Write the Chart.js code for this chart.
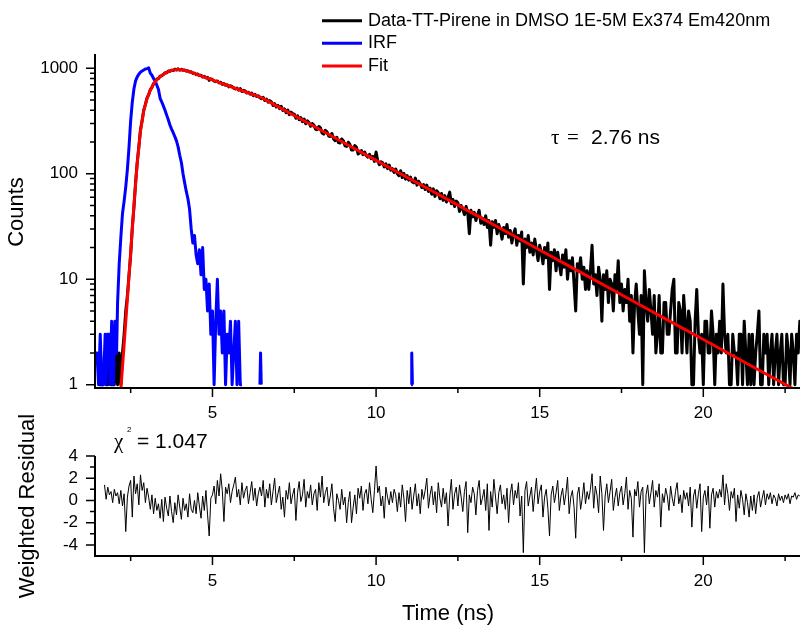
<!DOCTYPE html>
<html>
<head>
<meta charset="utf-8">
<script src="https://cdn.jsdelivr.net/npm/chart.js@4.4.1/dist/chart.umd.min.js"></script>
<style>
html, body { margin: 0; padding: 0; background: #fff; }
#wrap { position: relative; width: 800px; height: 626px; }
#wrap canvas { position: absolute; left: 0; top: 0; }
</style>
</head>
<body>
<div id="wrap">
  <canvas id="decayChart" width="800" height="626"></canvas>
  <canvas id="residChart" width="800" height="626"></canvas>
</div>
<script>
// === DATA ===

// decay channels: 1.5 ns .. 23.0 ns, 0.05 ns apart (one row = 1 ns)
const DECAY_START = 1.5, DECAY_STEP = 0.05;
const decayCounts = [
    2, 1, 1, 1, 2, 1, 1, 2, 1, 1, 1, 2, 1, 2, 1, 2, 3, 5, 7, 11,
    17, 31, 48, 83, 128, 181, 262, 320, 402, 455, 525, 562, 628, 658, 718, 741, 790, 800, 842, 851,
    874, 910, 906, 942, 938, 962, 953, 981, 966, 990, 962, 978, 958, 966, 941, 948, 921, 928, 896, 901,
    872, 884, 852, 861, 828, 840, 810, 821, 770, 795, 781, 757, 748, 760, 728, 738, 705, 716, 690, 700,
    668, 684, 672, 648, 638, 650, 621, 641, 603, 618, 610, 584, 594, 570, 582, 551, 566, 540, 550, 526,
    515, 531, 496, 512, 478, 494, 480, 446, 462, 430, 446, 414, 437, 398, 412, 380, 402, 364, 384, 372,
    368, 336, 355, 326, 341, 312, 330, 298, 318, 306, 282, 300, 290, 264, 262, 281, 272, 244, 238, 258,
    250, 228, 226, 241, 214, 206, 222, 198, 196, 214, 206, 184, 182, 199, 190, 168, 168, 185, 178, 154,
    158, 166, 152, 161, 149, 144, 153, 139, 146, 131, 161, 133, 122, 130, 127, 116, 124, 112, 121, 108,
    112, 103, 111, 100, 96, 107, 92, 101, 89, 96, 87, 93, 84, 82, 91, 78, 85, 80, 74, 79,
    71, 78, 68, 73, 64, 72, 61, 69, 66, 58, 65, 56, 62, 54, 60, 67, 52, 57, 49, 55,
    53, 44, 50, 46, 41, 49, 43, 27, 45, 39, 43, 36, 41, 45, 34, 38, 33, 40, 31, 36,
    21, 35, 31, 36, 27, 33, 29, 24, 31, 27, 33, 25, 29, 22, 27, 30, 21, 26, 23, 28,
    9, 24, 20, 26, 18, 22, 17, 24, 19, 15, 21, 18, 14, 20, 16, 22, 8, 18, 15, 19,
    12, 18, 14, 11, 17, 13, 19, 10, 15, 12, 16, 9, 5, 14, 12, 16, 10, 13, 8, 12,
    8, 12, 21, 9, 11, 7, 13, 10, 4, 11, 8, 12, 6, 10, 9, 5, 11, 8, 15, 6,
    9, 5, 8, 6, 10, 4, 7, 2, 6, 9, 5, 3, 7, 1, 12, 6, 4, 8, 5, 3,
    7, 2, 3, 7, 2, 2, 6, 6, 3, 3, 5, 8, 10, 2, 2, 6, 5, 2, 7, 4,
    2, 5, 4, 1, 1, 4, 8, 3, 2, 3, 1, 4, 4, 2, 2, 5, 3, 1, 3, 2,
    4, 2, 9, 3, 2, 3, 1, 1, 3, 2, 2, 1, 3, 3, 1, 4, 2, 1, 3, 1,
    3, 1, 2, 3, 5, 1, 1, 3, 2, 3, 1, 2, 3, 1, 2, 3, 1, 2, 3, 1,
    1, 3, 2, 1, 3, 2, 1, 3, 2, 4, 3
];

// IRF, null = empty channel (gap on the log axis)
const irfTime = [
    1.42, 1.47, 1.52, 1.57, 1.62, 1.67, 1.72, 1.75, 1.79, 1.84, 1.87, 1.92, 1.97, 2.02, 2.07,
    2.10, 2.15, 2.20, 2.25, 2.30, 2.35, 2.40, 2.45, 2.50, 2.55, 2.60, 2.65, 2.70, 2.75, 2.80,
    2.85, 2.90, 2.95, 3.00, 3.05, 3.10, 3.15, 3.20, 3.25, 3.30, 3.35, 3.40, 3.45, 3.50, 3.55,
    3.60, 3.65, 3.70, 3.75, 3.80, 3.85, 3.90, 3.95, 4.00, 4.05, 4.10, 4.15, 4.20, 4.25, 4.30,
    4.35, 4.40, 4.45, 4.50, 4.55, 4.60, 4.65, 4.70, 4.75, 4.80, 4.85, 4.90, 4.95, 5.00, 5.05,
    5.10, 5.15, 5.20, 5.25, 5.30, 5.35, 5.40, 5.45, 5.50, 5.55, 5.60, 5.65, 5.70, 5.75, 5.80,
    5.85, 5.90, 6.20, 6.45, 6.47, 6.49, 8.00, 11.07, 11.09, 11.11
];
const irfCounts = [
    2, 2, 1, 3, 1, 1, 3, 1, 3, 3, 1, 4, 1, 4, 2,
    6, 14, 25, 42, 55, 75, 110, 180, 320, 480, 640, 760, 830, 880, 920,
    945, 965, 985, 995, 1010, 900, 860, 800, 760, 690, 630, 520, 480, 440, 400,
    360, 325, 290, 265, 245, 225, 205, 180, 150, 128, 100, 82, 68, 58, 46,
    30, 22, 26, 17, 14, 19, 11, 20, 8, 10, 5, 9, 3, 5, 1,
    4, 10, 3, 5, 2, 5, 1, 3, 2, 4, 1, 2, 4, 1, 4,
    1, 1, null, 1, 2, 1, null, 1, 2, 1
];

const fitTime = [
    2.20, 2.30, 2.40, 2.50, 2.60, 2.70, 2.80, 2.90, 3.00, 3.10, 3.20, 3.30, 3.40, 3.50, 3.60,
    3.70, 3.80, 3.95, 4.10, 4.30, 4.50, 4.70, 4.90, 5.10, 5.30, 5.50, 5.75, 6.00, 6.50, 7.00,
    8.00, 9.00, 10.00, 11.00, 12.00, 13.00, 14.00, 15.00, 16.00, 17.00, 18.00, 19.00, 20.00,
    21.00, 22.00, 23.00
];
const fitCounts = [
    0.9, 2.4, 6.5, 18, 50, 125, 255, 395, 515, 620, 710, 780, 835, 880, 915,
    945, 962, 975, 965, 930, 880, 840, 797, 755, 716, 680, 638, 600, 528, 434,
    293, 198, 134, 90.7, 61.3, 41.4, 28.0, 18.9, 12.8, 8.66, 5.85, 3.96, 2.68,
    1.81, 1.22, 0.83
];

// weighted residuals: 1.70 ns on, 0.05 ns apart
const RESID_START = 1.7, RESID_STEP = 0.05;
const residuals = [
    1.4, 0.1, 1.2, 0.5, 0.8, -0.2, 1.0, 0.4, 0.7, -0.3, 0.9, -0.5, 0.6, -2.8, 0.3, 1.3,
    1.8, -1.5, 2.2, 0.6, 1.5, -0.4, 2.3, 0.9, 1.6, -0.2, 1.1, 0.3, -0.8, 0.5, -1.2, 0.2, -0.9, -0.3, -1.6, 0.1,
    -1.9, 0.3, -0.7, -1.4, 0.4, -1.0, -2.0, -0.2, -1.3, 0.5, -0.6, -1.7, 0.2, -0.9, -0.3, -1.5, 0.6, -0.8, -1.1, 0.0,
    -1.2, 0.7, -0.5, -1.6, 0.4, -0.9, 0.9, -1.3, -3.2, 0.2, 0.5, 1.3, -0.3, 1.8, 0.4, 2.4, 0.9, -1.9, 1.2, 0.6,
    1.5, -0.2, 0.8, 1.4, 2.1, 0.3, 1.0, -0.4, 1.6, 0.2, 0.9, 1.3, -0.3, 0.7, 1.7, 0.0, 1.1, -0.5, 0.6, 1.2,
    0.4, 1.8, -0.6, 1.0, 0.2, 1.5, -0.4, 0.8, 2.0, -0.2, 0.6, 1.3, -0.8, 0.3, -1.5, 0.9, 0.1, 1.6, -0.3, 0.5,
    1.1, -1.8, 0.7, 1.7, -0.1, 0.5, 1.9, -0.6, 0.8, 0.2, 1.4, -0.4, 0.6, 1.0, -0.9, 1.6, 0.3, 2.2, -0.2, 0.7,
    1.2, -0.5, 0.4, 1.5, -0.7, -1.9, 0.6, 0.0, -0.8, 1.0, -0.4, 0.3, -2.0, -0.2, 0.8, -2.0, -0.6, 0.5, -1.2, 1.1,
    0.2, 1.3, -0.9, 0.6, 1.0, -0.3, 1.6, 0.1, -1.1, 0.9, 3.1, 0.7, 1.3, -0.5, 0.4, -1.6, 1.2, 0.3, -0.4, 0.8,
    -0.2, 1.0, 0.5, -1.0, 0.7, -0.6, 1.4, 0.2, -1.9, 0.9, -0.3, 1.2, -0.8, 0.4, 1.5, -0.5, 0.6, -1.2, 1.0, 0.1,
    0.9, 2.0, -0.7, 0.5, 1.3, -0.4, 0.8, -1.1, 1.6, 0.2, -0.6, 1.1, -0.3, 0.7, -2.3, 0.4, 1.9, -0.8, 0.6, 1.2,
    -0.5, 1.4, 0.3, -1.0, 0.8, 1.7, -2.9, 0.5, -0.2, 1.2, 0.6, -1.3, 0.9, 1.8, -0.4, 0.2, 1.0, -0.9, 1.5, -2.7,
    0.8, -0.6, 1.9, 0.3, -1.2, 0.7, 1.4, -0.3, 0.5, -0.8, 1.1, -2.0, 0.6, 1.5, -0.4, 0.9, 0.2, 1.6, -1.4, 0.4,
    -4.7, 0.9, 1.7, -0.5, 0.4, 1.2, -1.0, 0.6, 2.0, -0.3, 0.8, 1.4, -1.5, 0.3, 1.0, -0.7, -3.2, 0.5, 1.3, -0.2,
    0.7, 1.8, -0.9, 0.4, 1.1, -0.4, 0.6, 2.1, -1.2, 0.3, 0.9, -0.6, -3.4, 0.5, 1.2, -0.8, 0.2, 1.6, -0.3, 0.8,
    0.1, 1.0, 2.4, -0.7, 1.3, 0.5, -1.1, 2.2, 0.6, -2.7, 0.4, 1.5, -0.2, 0.8, 1.9, -0.9, 0.3, 1.1, -0.5, 0.7,
    1.3, -0.4, 0.6, 2.1, -0.8, 0.9, 0.2, -3.3, 1.0, 0.4, 1.7, -0.6, 0.8, 1.2, -4.7, 0.5, 1.4, -0.3, 0.7, 1.8,
    -0.6, 0.9, 0.3, 1.5, -2.4, 0.6, -0.2, 1.1, 0.4, -0.9, 1.3, 0.2, -0.5, 0.8, 1.6, -0.3, 0.5, -1.1, 0.9, 0.1,
    0.7, -0.5, 1.2, -2.4, 0.4, 1.0, -0.7, 0.6, 1.5, -2.8, 0.3, 0.9, -0.4, 1.3, -2.5, 0.5, 1.1, -0.6, 0.8, 0.2,
    1.0, 0.3, 2.3, -0.4, 1.5, 0.6, -0.9, 0.8, 0.2, 1.1, -1.9, 0.5, -0.7, 0.9, 0.1, -1.3, 0.6, -0.2, -1.5, 0.4,
    -0.9, 0.5, -1.2, 0.3, 0.8, -0.6, 0.2, 0.9, -0.4, 0.6, 0.1, 0.7, -0.3, 0.5, 0.2, -0.5, 0.6, 0.0, 0.4, -0.2,
    0.5, 0.1, 0.6, -0.3, 0.4, 0.3, 0.7, 0.1, 0.5, 0.4
];

// axes / ticks
const X_MIN = 1.41, X_MAX = 22.955;
const timeTicks = [5, 10, 15, 20];
const timeMinorTicks = [2.5, 7.5, 12.5, 17.5, 22.5];
const countTicks = [1, 10, 100, 1000];
const countMinorTicks = [1, 10, 100].flatMap(d => [2, 3, 4, 5, 6, 7, 8, 9].map(m => m * d));
const residTicks = [4, 2, 0, -2, -4];
const residMinorTicks = [3, 1, -1, -3];

const seriesLabels = ['Data-TT-Pirene in DMSO 1E-5M Ex374 Em420nm', 'IRF', 'Fit'];
const seriesColors = ['#000000', '#0000ff', '#ff0000'];

const SANS = "'Liberation Sans', Arial, sans-serif";
const SERIF = "'Liberation Serif', 'Times New Roman', serif";

const toPoints = (xs, ys) => xs.map((x, i) => ({ x, y: ys[i] }));
const channelTimes = (n, start, step) => Array.from({ length: n }, (_, i) => +(start + i * step).toFixed(3));

// === AXIS FRAME (Origin style: left + bottom only, ticks outside) ===

function framePlugin(cfg) {
    return {
        id: 'frame',
        afterDatasetsDraw(chart) {
            const { ctx, chartArea: a } = chart;
            const sx = chart.scales.x, sy = chart.scales.y;
            ctx.save();
            ctx.strokeStyle = '#000';
            ctx.fillStyle = '#000';

            ctx.lineWidth = 1.5;
            ctx.beginPath();
            timeTicks.forEach(v => { const p = sx.getPixelForValue(v); ctx.moveTo(p, a.bottom); ctx.lineTo(p, a.bottom + 9); });
            timeMinorTicks.forEach(v => { const p = sx.getPixelForValue(v); ctx.moveTo(p, a.bottom); ctx.lineTo(p, a.bottom + 5); });
            cfg.yTicks.forEach(v => { const p = sy.getPixelForValue(v); ctx.moveTo(a.left, p); ctx.lineTo(a.left - 9, p); });
            cfg.yMinor.forEach(v => { const p = sy.getPixelForValue(v); ctx.moveTo(a.left, p); ctx.lineTo(a.left - 5, p); });
            ctx.stroke();

            ctx.lineWidth = 2;
            ctx.beginPath();
            ctx.moveTo(a.left, a.top);
            ctx.lineTo(a.left, a.bottom);
            ctx.lineTo(a.right, a.bottom);
            ctx.stroke();

            ctx.font = '17px ' + SANS;
            ctx.textAlign = 'center';
            ctx.textBaseline = 'middle';
            timeTicks.forEach(v => ctx.fillText(String(v), sx.getPixelForValue(v), a.bottom + 25.5));
            ctx.textAlign = 'right';
            cfg.yTicks.forEach(v => ctx.fillText(String(v), a.left - 17, sy.getPixelForValue(v)));

            if (cfg.extra) cfg.extra(ctx, chart);
            ctx.restore();
        }
    };
}

function rotatedText(ctx, text, x, y) {
    ctx.save();
    ctx.translate(x, y);
    ctx.rotate(-Math.PI / 2);
    ctx.textAlign = 'center';
    ctx.textBaseline = 'middle';
    ctx.fillText(text, 0, 0);
    ctx.restore();
}

// === DECAY CHART ===

function renderDecayChart() {
    const ctx = document.getElementById('decayChart').getContext('2d');
    const decayTime = channelTimes(decayCounts.length, DECAY_START, DECAY_STEP);

    new Chart(ctx, {
        type: 'line',
        data: {
            datasets: [
                { label: seriesLabels[0], data: toPoints(decayTime, decayCounts), borderColor: seriesColors[0], borderWidth: 3, order: 3 },
                { label: seriesLabels[1], data: toPoints(irfTime, irfCounts), borderColor: seriesColors[1], borderWidth: 3, order: 2, spanGaps: false },
                { label: seriesLabels[2], data: toPoints(fitTime, fitCounts), borderColor: seriesColors[2], borderWidth: 3, order: 1 }
            ]
        },
        options: {
            responsive: false, animation: false,
            layout: { padding: { left: 95, right: 0, top: 54, bottom: 238 } },
            elements: { point: { radius: 0 }, line: { tension: 0, borderJoinStyle: 'round', borderCapStyle: 'butt' } },
            plugins: { legend: { display: false }, tooltip: { enabled: false } },
            scales: {
                x: { type: 'linear', min: X_MIN, max: X_MAX, display: false },
                y: { type: 'logarithmic', min: 0.929, max: 1368, display: false }
            }
        },
        plugins: [framePlugin({
            yTicks: countTicks, yMinor: countMinorTicks,
            extra: (c, chart) => {
                // legend
                const rows = [20.7, 43.3, 66];
                chart.data.datasets.forEach((ds, i) => {
                    c.strokeStyle = ds.borderColor;
                    c.lineWidth = 3;
                    c.beginPath();
                    c.moveTo(322, rows[i]);
                    c.lineTo(362, rows[i]);
                    c.stroke();
                    c.fillStyle = '#000';
                    c.font = '18px ' + SANS;
                    c.textAlign = 'left';
                    c.textBaseline = 'middle';
                    c.fillText(ds.label, 368, rows[i]);
                });
                // lifetime
                c.textBaseline = 'alphabetic';
                c.font = '21px ' + SERIF;
                c.fillText('\u03c4', 551, 144);
                c.fillText('=', 567, 144);
                c.font = '21px ' + SANS;
                c.fillText('2.76 ns', 591, 144);
                // axis title
                c.font = '22px ' + SANS;
                rotatedText(c, 'Counts', 17, 212);
            }
        })]
    });
}

// === RESIDUAL CHART ===

function renderResidualChart() {
    const ctx = document.getElementById('residChart').getContext('2d');
    const residTime = channelTimes(residuals.length, RESID_START, RESID_STEP);

    new Chart(ctx, {
        type: 'line',
        data: {
            datasets: [
                { label: 'Weighted Residual', data: toPoints(residTime, residuals), borderColor: '#000', borderWidth: 1 }
            ]
        },
        options: {
            responsive: false, animation: false,
            layout: { padding: { left: 95, right: 0, top: 456, bottom: 70 } },
            elements: { point: { radius: 0 }, line: { tension: 0 } },
            plugins: { legend: { display: false }, tooltip: { enabled: false } },
            scales: {
                x: { type: 'linear', min: X_MIN, max: X_MAX, display: false },
                y: { type: 'linear', min: -5, max: 4, display: false }
            }
        },
        plugins: [framePlugin({
            yTicks: residTicks, yMinor: residMinorTicks,
            extra: c => {
                c.textAlign = 'left';
                c.textBaseline = 'alphabetic';
                c.font = '21px ' + SERIF;
                c.fillText('\u03c7', 114, 448);
                c.font = '8px ' + SANS;
                c.fillText('2', 127, 432);
                c.font = '21px ' + SANS;
                c.fillText('= 1.047', 137, 448);
                c.font = '22px ' + SANS;
                c.textAlign = 'center';
                c.textBaseline = 'middle';
                c.fillText('Time (ns)', 448, 614);
                rotatedText(c, 'Weighted Residual', 27.5, 506);
            }
        })]
    });
}

renderDecayChart();
renderResidualChart();
</script>
</body>
</html>
